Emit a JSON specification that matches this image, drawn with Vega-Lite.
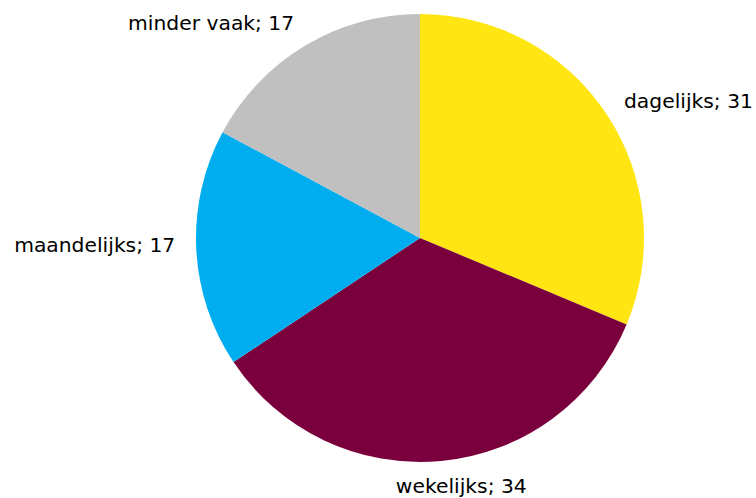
{
  "$schema": "https://vega.github.io/schema/vega-lite/v6.json",
  "autosize": "none",
  "width": 672,
  "height": 476,
  "padding": {"left": 84, "top": 0, "right": 0, "bottom": 22},
  "background": "white",
  "view": {"stroke": null},
  "data": {"values": [
    {"i": 1, "cat": "dagelijks", "value": 31, "label": "dagelijks; 31"},
    {"i": 2, "cat": "wekelijks", "value": 34, "label": "wekelijks; 34"},
    {"i": 3, "cat": "maandelijks", "value": 17, "label": "maandelijks; 17"},
    {"i": 4, "cat": "minder vaak", "value": 17, "label": "minder vaak; 17"}
  ]},
  "encoding": {
    "theta": {"field": "value", "type": "quantitative", "stack": true},
    "order": {"field": "i", "type": "quantitative"}
  },
  "layer": [
    {
      "mark": {"type": "arc", "outerRadius": 224},
      "encoding": {
        "color": {
          "field": "cat", "type": "nominal",
          "scale": {"domain": ["dagelijks", "wekelijks", "maandelijks", "minder vaak"],
                    "range": ["#FFE512", "#7A003D", "#00AEEF", "#C0C0C0"]},
          "legend": null
        }
      }
    },
    {
      "mark": {"type": "text", "radius": 245, "align": "left", "baseline": "middle", "font": "DejaVu Sans", "fontSize": 20.3, "color": "black"},
      "encoding": {
        "text": {"condition": {"test": "datum.cat == 'dagelijks'", "field": "label"}, "value": ""}
      }
    },
    {
      "mark": {"type": "text", "radius": 245, "align": "center", "baseline": "middle", "dx": 18, "dy": 5, "font": "DejaVu Sans", "fontSize": 20.3, "color": "black"},
      "encoding": {
        "text": {"condition": {"test": "datum.cat == 'wekelijks'", "field": "label"}, "value": ""}
      }
    },
    {
      "mark": {"type": "text", "radius": 245, "align": "right", "baseline": "middle", "dy": -4, "font": "DejaVu Sans", "fontSize": 20.3, "color": "black"},
      "encoding": {
        "text": {"condition": {"test": "datum.cat == 'maandelijks' || datum.cat == 'minder vaak'", "field": "label"}, "value": ""}
      }
    }
  ]
}
